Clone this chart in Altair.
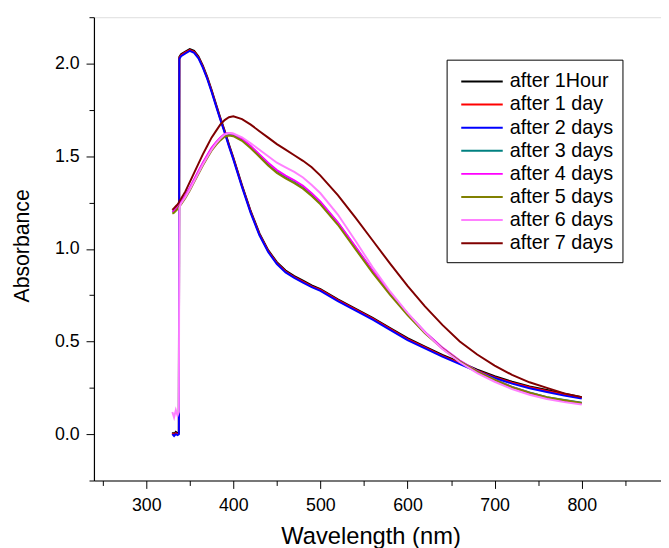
import altair as alt
import pandas as pd

wavelength = [330, 332, 334, 336, 337.5, 338, 340, 345, 350, 355, 360, 365, 370, 375, 380,
              385, 390, 395, 400, 410, 420, 430, 440, 450, 460, 470, 480, 490, 500, 520,
              540, 560, 580, 600, 620, 640, 660, 680, 700, 720, 740, 760, 780, 800]

series_names = ["after 1Hour", "after 1 day", "after 2 days", "after 3 days",
                "after 4 days", "after 5 days", "after 6 days", "after 7 days"]
series_colors = ["#000000", "#ff0000", "#0000ff", "#008080",
                 "#ff00ff", "#808000", "#ff80ff", "#800000"]

abs_1hour = [0.01, 0.0, 0.012, 0.005, 0.01, 2.035, 2.05, 2.065, 2.078, 2.068, 2.038, 1.988, 1.928, 1.858, 1.783,
             1.708, 1.638, 1.563, 1.493, 1.343, 1.203, 1.083, 0.993, 0.928, 0.883, 0.853, 0.828, 0.803, 0.783, 0.728,
             0.678, 0.628, 0.573, 0.518, 0.473, 0.428, 0.388, 0.348, 0.313, 0.283, 0.258, 0.238, 0.218, 0.2]
abs_1day = [0.005, -0.005, 0.005, 0.0, 0.005, 2.03, 2.045, 2.06, 2.073, 2.063, 2.033, 1.983, 1.923, 1.853, 1.778,
            1.703, 1.633, 1.558, 1.488, 1.338, 1.198, 1.078, 0.988, 0.923, 0.878, 0.848, 0.823, 0.798, 0.778, 0.723,
            0.673, 0.623, 0.568, 0.513, 0.468, 0.423, 0.383, 0.343, 0.308, 0.278, 0.253, 0.233, 0.213, 0.196]
abs_2days = [0.0, -0.01, 0.0, -0.005, 0.0, 2.025, 2.04, 2.055, 2.068, 2.058, 2.028, 1.978, 1.918, 1.848, 1.773,
             1.698, 1.628, 1.553, 1.483, 1.333, 1.193, 1.073, 0.983, 0.918, 0.873, 0.843, 0.818, 0.793, 0.773, 0.718,
             0.668, 0.618, 0.563, 0.508, 0.463, 0.418, 0.378, 0.338, 0.303, 0.273, 0.248, 0.228, 0.208, 0.192]
abs_3days = [1.2, 1.205, 1.215, 1.225, 1.235, 1.24, 1.25, 1.285, 1.325, 1.37, 1.415, 1.46, 1.5, 1.54, 1.57,
             1.595, 1.615, 1.62, 1.615, 1.59, 1.55, 1.505, 1.46, 1.42, 1.39, 1.365, 1.335, 1.295, 1.25, 1.14,
             1.01, 0.88, 0.76, 0.65, 0.55, 0.465, 0.395, 0.34, 0.295, 0.255, 0.225, 0.2, 0.185, 0.17]
abs_4days = [1.2, 1.207, 1.217, 1.228, 1.238, 1.243, 1.253, 1.289, 1.33, 1.375, 1.42, 1.465, 1.505, 1.545, 1.575,
             1.6, 1.62, 1.625, 1.62, 1.595, 1.555, 1.51, 1.465, 1.425, 1.395, 1.37, 1.34, 1.3, 1.255, 1.143,
             1.013, 0.882, 0.762, 0.652, 0.552, 0.467, 0.397, 0.34, 0.293, 0.253, 0.222, 0.197, 0.18, 0.166]
abs_5days = [1.19, 1.195, 1.205, 1.215, 1.225, 1.23, 1.24, 1.275, 1.315, 1.36, 1.405, 1.45, 1.49, 1.53, 1.56,
             1.585, 1.605, 1.612, 1.608, 1.583, 1.543, 1.497, 1.45, 1.41, 1.38, 1.355, 1.325, 1.285, 1.24, 1.13,
             1.0, 0.87, 0.752, 0.643, 0.545, 0.462, 0.393, 0.338, 0.293, 0.254, 0.224, 0.199, 0.183, 0.168]
abs_6days = [0.12, 0.09, 0.13, 0.1, 0.12, 1.22, 1.245, 1.28, 1.32, 1.365, 1.41, 1.455, 1.495, 1.535, 1.568,
             1.595, 1.617, 1.625, 1.622, 1.602, 1.57, 1.535, 1.5, 1.465, 1.44, 1.415, 1.385, 1.345, 1.3, 1.185,
             1.045, 0.9, 0.77, 0.655, 0.55, 0.46, 0.388, 0.33, 0.283, 0.243, 0.213, 0.19, 0.173, 0.16]
abs_7days = [1.21, 1.22, 1.23, 1.24, 1.25, 1.255, 1.27, 1.31, 1.36, 1.41, 1.46, 1.51, 1.555, 1.6, 1.635,
             1.67, 1.695, 1.71, 1.715, 1.7, 1.67, 1.635, 1.6, 1.565, 1.535, 1.505, 1.475, 1.44, 1.395, 1.29,
             1.17, 1.045, 0.92, 0.8, 0.69, 0.59, 0.5, 0.43, 0.37, 0.32, 0.28, 0.25, 0.22, 0.2]

all_series = [abs_1hour, abs_1day, abs_2days, abs_3days, abs_4days, abs_5days, abs_6days, abs_7days]

rows = []
for name, vals in zip(series_names, all_series):
    for w, v in zip(wavelength, vals):
        rows.append({"wl": w, "A": v, "series": name})
df = pd.DataFrame(rows)

x_ticks = list(range(250, 851, 50))
y_ticks = [-0.25 + 0.25 * i for i in range(11)]

FONT = "Liberation Sans"

x_axis = alt.Axis(
    values=x_ticks,
    tickSize={"condition": {"test": "datum.value % 100 === 0", "value": 8}, "value": 5},
    labelExpr="datum.value % 100 === 0 ? datum.label : ''",
    labelOverlap=False,
    grid=False,
    domainColor="black", domainWidth=1.2,
    tickColor="black", tickWidth=1,
    labelFont=FONT, labelFontSize=18, labelColor="black", labelPadding=8,
    title="Wavelength (nm)", titleFont=FONT, titleFontSize=24, titleFontWeight="normal",
    titleColor="black", titleX=280, titleY=64, titleBaseline="alphabetic", titleAlign="center",
)
y_axis = alt.Axis(
    values=y_ticks,
    tickSize={"condition": {"test": "datum.value % 0.5 === 0", "value": 8}, "value": 5},
    format=".1f",
    labelExpr="datum.value % 0.5 === 0 ? datum.label : ''",
    labelOverlap=False,
    grid=False,
    domainColor="black", domainWidth=1.2,
    tickColor="black", tickWidth=1,
    labelFont=FONT, labelFontSize=18, labelColor="black", labelPadding=7,
    title="Absorbance", titleFont=FONT, titleFontSize=21.5, titleFontWeight="normal",
    titleColor="black", titleX=-72, titleY=231, titleAngle=270,
    titleBaseline="middle", titleAlign="center",
)

legend = alt.Legend(
    orient="none", legendX=357, legendY=43, title=" ", titleFontSize=3, titlePadding=0,
    symbolType="M-1,0H9", symbolSize=70.56, symbolStrokeWidth=2,
    labelFont=FONT, labelFontSize=20, labelColor="black", labelOffset=35,
    padding=9, rowPadding=3.4,
    strokeColor="black", fillColor="white", cornerRadius=0,
)

color = alt.Color("series:N", scale=alt.Scale(domain=series_names, range=series_colors), legend=legend)

base = alt.Chart(df).mark_line(strokeWidth=2).encode(
    x=alt.X("wl:Q", scale=alt.Scale(domain=[240, 891], nice=False, zero=False), axis=x_axis),
    y=alt.Y("A:Q", scale=alt.Scale(domain=[-0.25, 2.25], nice=False, zero=False), axis=y_axis),
    color=color,
)

layers = [base.transform_filter(alt.datum.series == name) for name in series_names]

chart = alt.layer(*layers).properties(
    width=574, height=469,
    padding={"left": 87, "top": 6, "right": 0, "bottom": 65},
    autosize=alt.AutoSizeParams(type="none"),
).configure_view(stroke=None).configure(font=FONT)

chart.save("out.html", embed_options={"renderer": "svg", "actions": False})
